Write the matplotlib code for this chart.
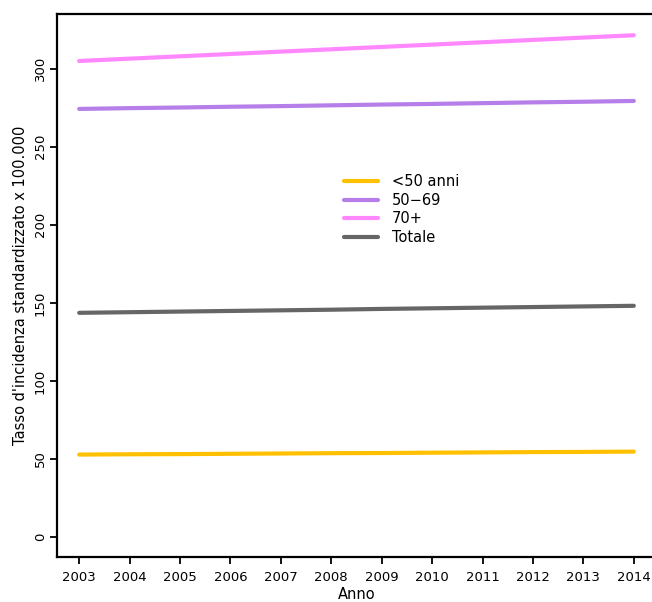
import matplotlib
matplotlib.use("Agg")
import matplotlib.pyplot as plt

years = [2003, 2004, 2005, 2006, 2007, 2008, 2009, 2010, 2011, 2012, 2013, 2014]
under50 = [52.8, 53.0, 53.1, 53.3, 53.5, 53.7, 53.8, 54.0, 54.2, 54.4, 54.5, 54.7]
age50_69 = [274.2, 274.7, 275.1, 275.6, 276.0, 276.5, 277.0, 277.4, 277.9, 278.4, 278.8, 279.3]
age70plus = [304.9, 306.4, 307.9, 309.4, 310.9, 312.4, 313.9, 315.4, 316.9, 318.4, 319.9, 321.4]
totale = [143.6, 144.0, 144.4, 144.8, 145.2, 145.6, 146.1, 146.5, 146.9, 147.3, 147.7, 148.1]
labels = ["<50 anni", "50\u221269", "70+", "Totale"]
colors = ["#FFC000", "#B57EE8", "#FF88FF", "#666666"]
yticks = [0, 50, 100, 150, 200, 250, 300]

plt.rcParams['font.family'] = ['DejaVu Sans']
W, H = 652, 602
fig = plt.figure(figsize=(W/100, H/100), dpi=100)
left, right, top, bottom = 57, 656, 14, 557
ax = fig.add_axes([left/W, 1 - bottom/H, (right-left)/W, (bottom-top)/H])

for s, c, l in zip([under50, age50_69, age70plus, totale], colors, labels):
    ax.plot(years, s, color=c, lw=3.0, label=l, solid_capstyle='round')

ax.set_xlim(2002.56, 2014.44)
ax.set_ylim(-12.8, 335)
ax.set_xticks(years)
ax.set_xticklabels([str(y) for y in years], fontsize=9.5)
ax.set_yticks(yticks)
ax.set_yticklabels([str(t) for t in yticks], fontsize=9.5, rotation=90, va='center')
ax.tick_params(axis='both', length=5.2, width=1.3, color='black')
ax.tick_params(axis='x', pad=5)
ax.tick_params(axis='y', pad=2)
for sp in ax.spines.values():
    sp.set_linewidth(1.6)
ax.set_xlabel("Anno", fontsize=10.5, labelpad=2)
ax.set_ylabel("Tasso d'incidenza standardizzato x 100.000", fontsize=10.5, labelpad=4)

ax.legend(loc='upper left', bbox_to_anchor=(344/W, 1 - 174/H), bbox_transform=fig.transFigure,
          frameon=False, fontsize=10.5, handlelength=2.3, handletextpad=1.0,
          labelspacing=0.25, borderpad=0, borderaxespad=0)

fig.savefig("out.png", dpi=100)
